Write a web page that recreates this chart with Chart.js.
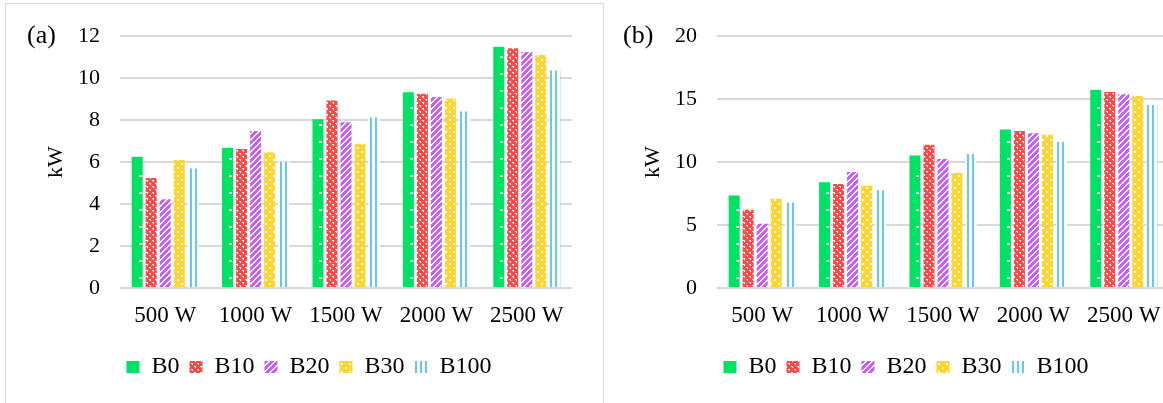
<!DOCTYPE html>
<html><head><meta charset="utf-8">
<script src="https://cdn.jsdelivr.net/npm/chart.js@4.4.0/dist/chart.umd.min.js"></script>
<style>
html,body{margin:0;padding:0;background:#fff;width:1163px;height:403px;overflow:hidden;position:relative;font-family:'Liberation Serif',serif;}
#frameA{position:absolute;left:5px;top:3px;width:597px;height:410px;border-left:1px solid #d9d9d9;border-top:1px solid #d9d9d9;border-right:1px solid #d9d9d9;}
canvas{position:absolute;top:3px;}
#ca{left:5px}
#cb{left:602px}
.tag{position:absolute;font-size:26px;line-height:28px;color:#000;font-family:'Liberation Serif',serif;}
</style></head>
<body>
<div id="frameA"></div>
<canvas id="ca" width="598" height="400"></canvas>
<canvas id="cb" width="598" height="400"></canvas>
<div class="tag" style="left:27px;top:21px">(a)</div>
<div class="tag" style="left:623px;top:21px">(b)</div>
<script>
// ---- data ----
const categories = ['500 W', '1000 W', '1500 W', '2000 W', '2500 W'];
const seriesNames = ['B0', 'B10', 'B20', 'B30', 'B100'];

// panel (a)
const a_B0   = [6.26, 6.68, 8.04, 9.33, 11.50];
const a_B10  = [5.24, 6.62, 8.94, 9.26, 11.43];
const a_B20  = [4.23, 7.48, 7.90, 9.10, 11.25];
const a_B30  = [6.10, 6.47, 6.87, 9.03, 11.10];
const a_B100 = [5.70, 6.02, 8.13, 8.41, 10.36];
const yTicksA = [0, 2, 4, 6, 8, 10, 12];

// panel (b)
const b_B0   = [7.34, 8.39, 10.52, 12.58, 15.73];
const b_B10  = [6.21, 8.26, 11.37, 12.47, 15.57];
const b_B20  = [5.11, 9.22, 10.25, 12.29, 15.39];
const b_B30  = [7.08, 8.13, 9.13, 12.17, 15.25];
const b_B100 = [6.79, 7.76, 10.65, 11.61, 14.54];
const yTicksB = [0, 5, 10, 15, 20];

// ---- patterns ----
function makePattern(w, h, bg, fg, rects) {
  const c = document.createElement('canvas');
  c.width = w; c.height = h;
  const x = c.getContext('2d');
  x.fillStyle = bg; x.fillRect(0, 0, w, h);
  x.fillStyle = fg;
  rects.forEach(r => x.fillRect(r[0], r[1], r[2], r[3]));
  return x.createPattern(c, 'repeat');
}
const GREEN = '#00e264', RED = '#ff4848', PURPLE = '#cc5cff', YELLOW = '#ffd52e', BLUE = '#62c8ff';
const pB0 = GREEN;
const pB10 = makePattern(6, 6, RED, '#ffffff', [[0,0,2,1],[3,3,2,1],[1,1,1,1],[4,4,1,1]]);
const diag = [];
for (let y = 0; y < 6; y++) { const s = (5 - y); diag.push([s,y,4,1]); if (s + 4 > 6) diag.push([s - 6, y, 4, 1]); }
const pB20 = makePattern(6, 6, '#ffffff', PURPLE, diag);
const pB30 = makePattern(8, 8, YELLOW, '#ffffff', [[0,0,2,2],[4,4,2,2]]);
const pB100 = makePattern(5, 1, '#ffffff', BLUE, [[0,0,2,1]]);
const fills = [pB0, pB10, pB20, pB30, pB100];

const FONT = 'Liberation Serif';

// small white dots inside the solid B0 bars (Excel "dotted" fill look)
const dotPlugin = {
  id: 'b0dots',
  afterDatasetsDraw(chart) {
    const meta = chart.getDatasetMeta(0);
    const ctx = chart.ctx;
    ctx.save();
    ctx.fillStyle = '#ffffff';
    meta.data.forEach(el => {
      const x = Math.round(el.x + 1.5);
      for (let y = el.base - 10; y > el.y + 4; y -= 17) {
        ctx.fillRect(x, Math.round(y), 3, 2);
      }
    });
    ctx.restore();
  }
};

function build(id, seriesData, ticks) {
  new Chart(document.getElementById(id), {
    type: 'bar',
    data: {
      labels: categories,
      datasets: seriesNames.map((n, i) => ({
        label: n,
        data: seriesData[i],
        backgroundColor: fills[i],
        borderWidth: 0,
        categoryPercentage: 0.775,
        barPercentage: 0.786
      }))
    },
    options: {
      responsive: false,
      animation: false,
      devicePixelRatio: 1,
      layout: { padding: { left: 41, right: 31, top: 30, bottom: 14 } },
      plugins: {
        legend: {
          position: 'bottom',
          labels: { boxWidth: 13, boxHeight: 12, padding: 10, color: '#000', font: { family: FONT, size: 24 } }
        },
        tooltip: { enabled: false }
      },
      scales: {
        x: {
          grid: { display: false, drawTicks: false },
          border: { display: false },
          ticks: { color: '#000', padding: 14, maxRotation: 0, autoSkip: false, font: { family: FONT, size: 23 } },
          afterFit: s => { s.height = 57; }
        },
        y: {
          min: ticks[0], max: ticks[ticks.length - 1],
          ticks: { stepSize: ticks[1] - ticks[0], color: '#000', padding: 20, font: { family: FONT, size: 22 } },
          grid: { color: '#d9d9d9', lineWidth: 2, drawTicks: false },
          border: { display: false },
          title: { display: true, text: 'kW', color: '#000', font: { family: FONT, size: 22 }, padding: { top: -3, bottom: 0 } },
          afterFit: s => { s.width = 74; }
        }
      }
    },
    plugins: [dotPlugin]
  });
}

build('ca', [a_B0, a_B10, a_B20, a_B30, a_B100], yTicksA);
build('cb', [b_B0, b_B10, b_B20, b_B30, b_B100], yTicksB);
</script>
</body></html>
